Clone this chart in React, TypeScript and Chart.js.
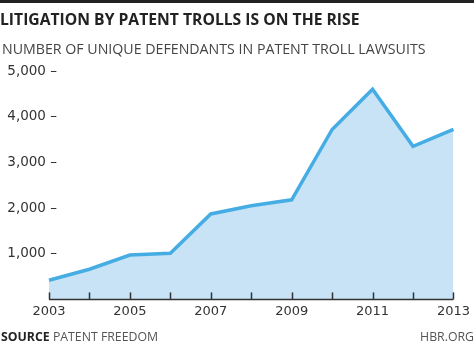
import React, { useEffect, useRef } from "react";
import { Chart, registerables } from "chart.js";

Chart.register(...registerables);

const years = ["2003", "2004", "2005", "2006", "2007", "2008", "2009", "2010", "2011", "2012", "2013"];
const defendants = [420, 660, 970, 1010, 1870, 2050, 2180, 3720, 4600, 3350, 3720];
const yTicks = [1000, 2000, 3000, 4000, 5000];
const labeledYears = ["2003", "2005", "2007", "2009", "2011", "2013"];

const TICK_FONT = '13.5px "DejaVu Sans"';

const axisPlugin = {
  id: "hbrAxis",
  afterDraw(chart: any) {
    const { ctx, chartArea, scales } = chart;
    const x = scales.x;
    const y = scales.y;
    ctx.save();
    ctx.strokeStyle = "#333";
    ctx.lineWidth = 1.5;
    ctx.beginPath();
    ctx.moveTo(chartArea.left, chartArea.bottom);
    ctx.lineTo(chartArea.right, chartArea.bottom);
    ctx.stroke();
    years.forEach((_, i) => {
      const px = Math.round(x.getPixelForValue(i)) + 0.5;
      ctx.beginPath();
      ctx.moveTo(px, chartArea.bottom);
      ctx.lineTo(px, chartArea.bottom - 7);
      ctx.stroke();
    });
    ctx.fillStyle = "#333";
    ctx.font = TICK_FONT;
    ctx.textAlign = "right";
    ctx.textBaseline = "middle";
    yTicks.forEach((v) => {
      const py = y.getPixelForValue(v);
      ctx.fillText(v.toLocaleString("en-US") + " \u2013", chartArea.left + 8, py);
    });
    ctx.restore();
  },
};

function LineChart() {
  const ref = useRef<HTMLCanvasElement>(null);
  useEffect(() => {
    const chart = new Chart(ref.current!, {
      type: "line",
      data: {
        labels: years,
        datasets: [
          {
            data: defendants,
            borderColor: "#45ade3",
            borderWidth: 3.5,
            backgroundColor: "#c8e3f6",
            fill: "origin",
            pointRadius: 0,
            tension: 0,
            borderJoinStyle: "miter",
          },
        ],
      },
      options: {
        animation: false,
        responsive: false,
        maintainAspectRatio: false,
        layout: { padding: { left: 49, right: 18, top: 71, bottom: 31 } },
        plugins: { legend: { display: false }, tooltip: { enabled: false } },
        scales: {
          y: { display: false, min: 0, max: 5000 },
          x: {
            offset: false,
            grid: { display: false, drawTicks: false },
            border: { display: false },
            ticks: {
              autoSkip: false,
              maxRotation: 0,
              padding: 4,
              color: "#333",
              font: { family: "DejaVu Sans", size: 13 },
              callback: (_v: any, i: number) => (labeledYears.includes(years[i]) ? years[i] : ""),
            },
          },
        },
      },
      plugins: [axisPlugin],
    });
    return () => chart.destroy();
  }, []);
  return <canvas ref={ref} width={474} height={354} style={{ position: "absolute", left: 0, top: 0 }} />;
}

export default function App() {
  return (
    <div style={{ position: "fixed", left: 0, top: 0, width: 474, height: 354, background: "#fff", overflow: "hidden" }}>
      <div style={{ position: "absolute", left: 0, top: 0, width: 474, height: 3, background: "#222" }} />
      <LineChart />
      <div
        style={{
          position: "absolute",
          left: 0,
          top: 8,
          font: 'bold 15.7px "Open Sans"',
          color: "#222",
          whiteSpace: "nowrap",
        }}
      >
        LITIGATION BY PATENT TROLLS IS ON THE RISE
      </div>
      <div
        style={{
          position: "absolute",
          left: 2,
          top: 39,
          font: '14.2px "Open Sans"',
          color: "#444",
          whiteSpace: "nowrap",
        }}
      >
        NUMBER OF UNIQUE DEFENDANTS IN PATENT TROLL LAWSUITS
      </div>
      <div
        style={{
          position: "absolute",
          left: 1,
          top: 328,
          font: '12.3px "Open Sans"',
          color: "#555",
          whiteSpace: "nowrap",
        }}
      >
        <span style={{ fontWeight: "bold", color: "#222" }}>SOURCE</span> PATENT FREEDOM
      </div>
      <div
        style={{
          position: "absolute",
          right: 0,
          top: 328,
          font: '12.3px "Open Sans"',
          color: "#555",
          whiteSpace: "nowrap",
        }}
      >
        HBR.ORG
      </div>
    </div>
  );
}
